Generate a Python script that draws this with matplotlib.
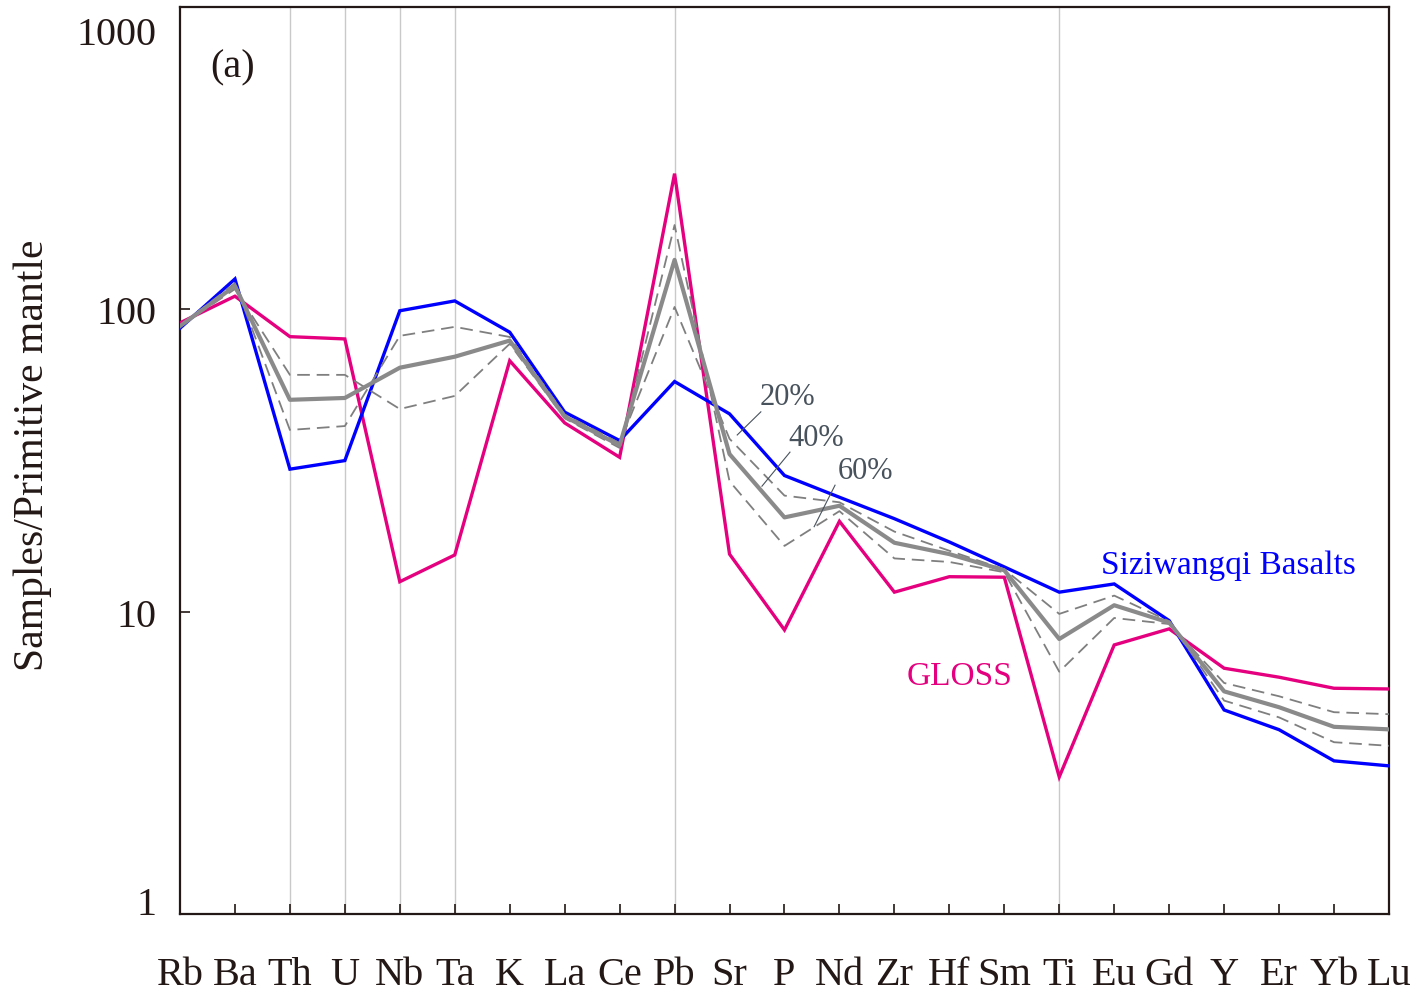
import numpy as np
import matplotlib
matplotlib.use("Agg")
import matplotlib.pyplot as plt
from matplotlib.transforms import ScaledTranslation

plt.rcParams['font.family'] = ['Liberation Serif', 'DejaVu Serif']

# Element order of the primitive-mantle normalised spidergram
elements = ["Rb", "Ba", "Th", "U", "Nb", "Ta", "K", "La", "Ce", "Pb", "Sr", "P",
            "Nd", "Zr", "Hf", "Sm", "Ti", "Eu", "Gd", "Y", "Er", "Yb", "Lu"]

# Siziwangqi basalts (average)
basalt = [86.6, 126, 29.6, 31.6, 98.9, 106.6, 84.0, 45.7, 36.8, 57.7, 45.1, 28.2,
          23.9, 20.3, 17.0, 14.06, 11.6, 12.35, 9.34, 4.73, 4.07, 3.21, 3.09]

# Global subducting sediment (GLOSS)
gloss = [90.2, 110.5, 81.2, 79.8, 12.56, 15.4, 67.6, 42.1, 32.4, 281, 15.5, 8.7,
         19.9, 11.6, 13.05, 13.0, 2.84, 7.76, 8.77, 6.50, 6.07, 5.58, 5.55]

# Mixing curves: basalt source + GLOSS
mix20 = [88, 122, 39.9, 41.1, 81.7, 87.5, 81.0, 44.9, 36.1, 101.8, 37.3, 24.2,
         23.0, 18.4, 15.9, 13.8, 9.83, 11.3, 9.3, 5.08, 4.47, 3.70, 3.60]
mix40 = [88, 119.5, 50.2, 50.9, 64.1, 69.7, 78.8, 44.2, 35.5, 145.7, 33.2, 20.5,
         22.4, 16.9, 15.5, 13.7, 8.12, 10.5, 9.2, 5.45, 4.83, 4.16, 4.08]
mix60 = [88, 116.7, 60.7, 60.7, 46.8, 51.7, 76.9, 43.6, 34.8, 190, 27.0, 16.5,
         21.5, 15.0, 14.6, 13.5, 6.33, 9.53, 9.1, 5.81, 5.25, 4.65, 4.58]

ytick_values = [1, 10, 100, 1000]
ytick_labels = ["1", "10", "100", "1000"]
guide_elements = ["Th", "U", "Nb", "Ta", "Pb", "Ti"]

text_dark = "#231815"
blue = "#0000FF"
pink = "#E4007F"
grey = "#8a8a8a"
note = "#48525c"

fig = plt.figure(figsize=(14.24, 9.95), dpi=100)
ax = fig.add_axes([0.1264, 0.0804, 0.8490, 0.9116])

x = np.arange(len(elements))

# light vertical guides
for el in guide_elements:
    ax.axvline(elements.index(el), color="#c9c9c9", lw=1.0, zorder=1)

ax.plot(x, gloss, color=pink, lw=2.4, zorder=3, solid_joinstyle="miter")
ax.plot(x, basalt, color=blue, lw=2.4, zorder=3, solid_joinstyle="miter")
ax.plot(x, mix20, color="#7f7f7f", lw=1.3, dashes=(7, 3.8), zorder=4)
ax.plot(x, mix60, color="#7f7f7f", lw=1.3, dashes=(7, 3.8), zorder=4)
ax.plot(x, mix40, color=grey, lw=3.0, zorder=5)

ax.set_yscale("log")
ax.set_ylim(1, 1000)
ax.set_xlim(0, len(elements) - 1)

ax.set_xticks(x)
ax.set_xticklabels(elements, fontsize=29, color=text_dark)
ax.set_yticks(ytick_values)
ax.set_yticklabels(ytick_labels, fontsize=29, color=text_dark)
ax.yaxis.set_minor_locator(matplotlib.ticker.NullLocator())

ax.tick_params(axis="x", direction="in", length=7.5, width=1.2, pad=30, color=text_dark)
ax.tick_params(axis="y", direction="in", length=7.5, width=1.2, pad=17, color=text_dark)

# keep the end labels inside the axis height
labs = ax.get_yticklabels()
labs[0].set_va("baseline")
labs[-1].set_va("top")
labs[-1].set_transform(labs[-1].get_transform() + ScaledTranslation(0, -9 / 100, fig.dpi_scale_trans))

for s in ax.spines.values():
    s.set_linewidth(1.6)
    s.set_color(text_dark)

ax.set_ylabel("Samples/Primitive mantle", fontsize=30, color=text_dark)
ax.yaxis.set_label_coords(-0.106, 0.507)

ax.text(0.0438, 0.934, "(a)", transform=ax.transAxes, fontsize=29,
        color=text_dark, ha="center", va="center")

ax.text(19.07, 14.27, "Siziwangqi Basalts", fontsize=24, color=blue,
        ha="center", va="center")
ax.text(14.19, 6.13, "GLOSS", fontsize=24, color=pink, ha="center", va="center")

# mixing proportion labels with leader lines
ax.plot([10.14, 10.57], [38.4, 45.8], color=note, lw=0.8, zorder=6)
ax.plot([10.59, 11.10], [26.0, 33.7], color=note, lw=0.8, zorder=6)
ax.plot([11.54, 11.92], [19.1, 26.2], color=note, lw=0.8, zorder=6)
ax.text(11.05, 51.3, "20%", fontsize=22, color=note, ha="center", va="center")
ax.text(11.57, 37.8, "40%", fontsize=22, color=note, ha="center", va="center")
ax.text(12.47, 29.2, "60%", fontsize=22, color=note, ha="center", va="center")

fig.savefig("out.png", dpi=100, facecolor="white")
